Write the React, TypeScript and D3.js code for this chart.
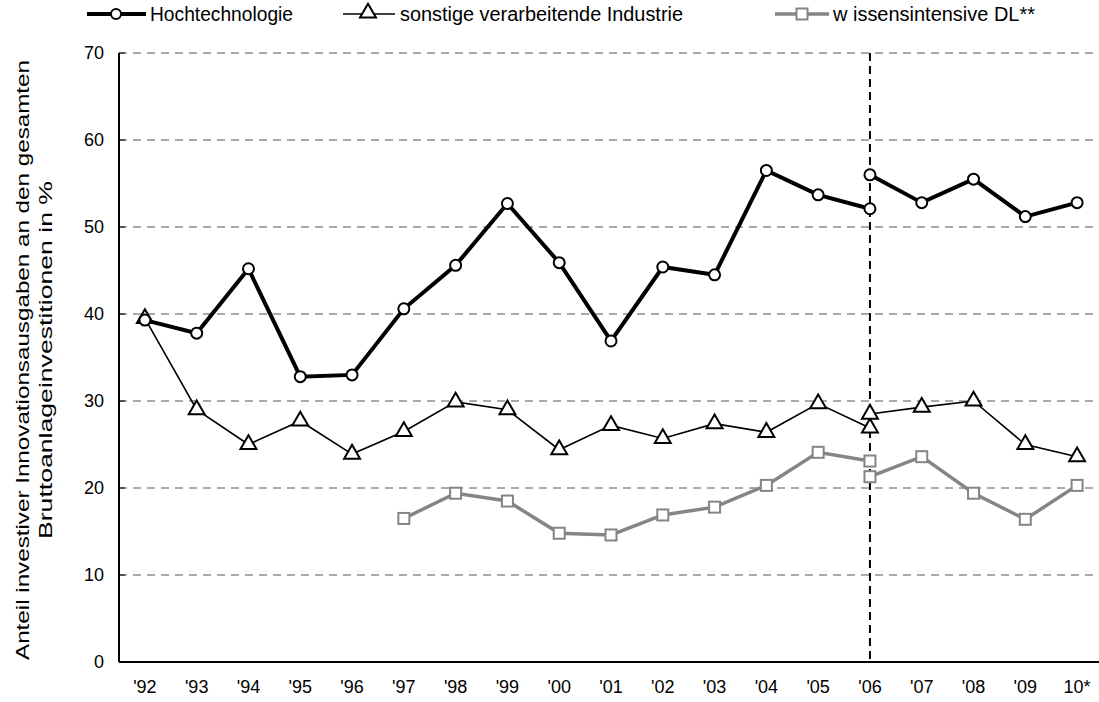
import * as d3 from "d3";

const width = 1099;
const height = 702;
const marginLeft = 119;
const marginTop = 53;
const marginBottom = 40;
const plotRight = 1103;

const years = ["'92", "'93", "'94", "'95", "'96", "'97", "'98", "'99", "'00", "'01", "'02", "'03", "'04", "'05", "'06", "'07", "'08", "'09", "10*"];
// old survey basis up to '06, new basis from '06 on
const hochAlt = [39.3, 37.8, 45.2, 32.8, 33.0, 40.6, 45.6, 52.7, 45.9, 36.9, 45.4, 44.5, 56.5, 53.7, 52.1];
const hochNeu = [56.0, 52.8, 55.5, 51.2, 52.8];
const sonstAlt = [39.5, 29.0, 25.0, 27.7, 23.9, 26.5, 29.9, 29.0, 24.4, 27.2, 25.7, 27.4, 26.4, 29.7, 26.9];
const sonstNeu = [28.5, 29.3, 30.0, 25.0, 23.6];
const wissAlt = [null, null, null, null, null, 16.5, 19.4, 18.5, 14.8, 14.6, 16.9, 17.8, 20.3, 24.1, 23.1];
const wissNeu = [21.3, 23.6, 19.4, 16.4, 20.3];
const yTicks = [0, 10, 20, 30, 40, 50, 60, 70];

const font = "Liberation Sans, Arial, sans-serif";

type Pt = [string, number];

const seg = (vals: (number | null)[], offset: number): Pt[] =>
  vals
    .map((v, i) => [years[i + offset], v] as [string, number | null])
    .filter((d) => d[1] !== null) as Pt[];

const App = () => {
  const x = d3.scaleBand<string>().domain(years).range([marginLeft, plotRight]).padding(0);
  const cx = (k: string) => (x(k) as number) + x.bandwidth() / 2;
  const y = d3.scaleLinear([0, 70], [height - marginBottom, marginTop]);
  const line = d3.line<Pt>((d) => cx(d[0]), (d) => y(d[1]));

  const hoch = [seg(hochAlt, 0), seg(hochNeu, 14)];
  const sonst = [seg(sonstAlt, 0), seg(sonstNeu, 14)];
  const wiss = [seg(wissAlt, 0), seg(wissNeu, 14)];

  const tri = d3.symbol(d3.symbolTriangle, 110)() as string;
  const gray = "#858585";

  return (
    <svg width={width} height={height} style={{ position: "absolute", left: 0, top: 0, background: "#fff" }} fontFamily={font}>
      {/* grid */}
      {yTicks.slice(1).map((t) => (
        <line key={t} x1={marginLeft} x2={plotRight} y1={y(t)} y2={y(t)} stroke="#555" strokeWidth={1} strokeDasharray="8,6" />
      ))}
      {/* break line at '06 */}
      <line x1={cx("'06")} x2={cx("'06")} y1={y(70)} y2={y(0)} stroke="#000" strokeWidth={2} strokeDasharray="8,5" />
      {/* axes */}
      <line x1={marginLeft} x2={marginLeft} y1={y(70)} y2={y(0)} stroke="#000" strokeWidth={2} />
      <line x1={marginLeft} x2={plotRight} y1={y(0)} y2={y(0)} stroke="#000" strokeWidth={2} />
      {yTicks.map((t) => (
        <g key={t}>
          <line x1={marginLeft} x2={marginLeft + 6} y1={y(t)} y2={y(t)} stroke="#000" strokeWidth={1} />
          <text x={marginLeft - 15} y={y(t)} dy="0.35em" textAnchor="end" fontSize={18}>{t}</text>
        </g>
      ))}
      {years.map((yr) => (
        <text key={yr} x={cx(yr)} y={y(0) + 31} textAnchor="middle" fontSize={18}>{yr}</text>
      ))}
      <g transform={`translate(22,360) rotate(-90)`} fontSize={19} textAnchor="middle">
        <text y={0} dy="0.35em" textLength={600} lengthAdjust="spacingAndGlyphs">Anteil investiver Innovationsausgaben an den gesamten</text>
        <text y={23} dy="0.35em" textLength={358} lengthAdjust="spacingAndGlyphs">Bruttoanlageinvestitionen in %</text>
      </g>

      {/* wissensintensive DL */}
      {wiss.map((s, i) => (
        <path key={i} d={line(s) as string} fill="none" stroke={gray} strokeWidth={3.5} />
      ))}
      {wiss.flat().map((d, i) => (
        <rect key={i} x={cx(d[0]) - 5.5} y={y(d[1]) - 5.5} width={11} height={11} fill="#fff" stroke={gray} strokeWidth={2} />
      ))}

      {/* sonstige verarbeitende Industrie */}
      {sonst.map((s, i) => (
        <path key={i} d={line(s) as string} fill="none" stroke="#000" strokeWidth={1.6} />
      ))}
      {sonst.flat().map((d, i) => (
        <path key={i} d={tri} transform={`translate(${cx(d[0])},${y(d[1])})`} fill="#fff" stroke="#000" strokeWidth={2} />
      ))}

      {/* Hochtechnologie */}
      {hoch.map((s, i) => (
        <path key={i} d={line(s) as string} fill="none" stroke="#000" strokeWidth={4} />
      ))}
      {hoch.flat().map((d, i) => (
        <circle key={i} cx={cx(d[0])} cy={y(d[1])} r={5.5} fill="#fff" stroke="#000" strokeWidth={2} />
      ))}

      {/* legend */}
      <g fontSize={20}>
        <line x1={87} x2={146} y1={14} y2={14} stroke="#000" strokeWidth={4} />
        <circle cx={116} cy={14} r={5} fill="#fff" stroke="#000" strokeWidth={2} />
        <text x={150} y={14} dy="0.35em" textLength={143} lengthAdjust="spacingAndGlyphs">Hochtechnologie</text>

        <line x1={343} x2={395} y1={14} y2={14} stroke="#000" strokeWidth={1.6} />
        <path d={tri} transform="translate(368,13)" fill="#fff" stroke="#000" strokeWidth={2} />
        <text x={400} y={14} dy="0.35em" textLength={283} lengthAdjust="spacingAndGlyphs">sonstige verarbeitende Industrie</text>

        <line x1={775} x2={829} y1={14} y2={14} stroke={gray} strokeWidth={3.5} />
        <rect x={796.5} y={8.5} width={11} height={11} fill="#fff" stroke={gray} strokeWidth={2} />
        <text x={833} y={14} dy="0.35em" textLength={202} lengthAdjust="spacingAndGlyphs">w issensintensive DL**</text>
      </g>
    </svg>
  );
};

export default App;
